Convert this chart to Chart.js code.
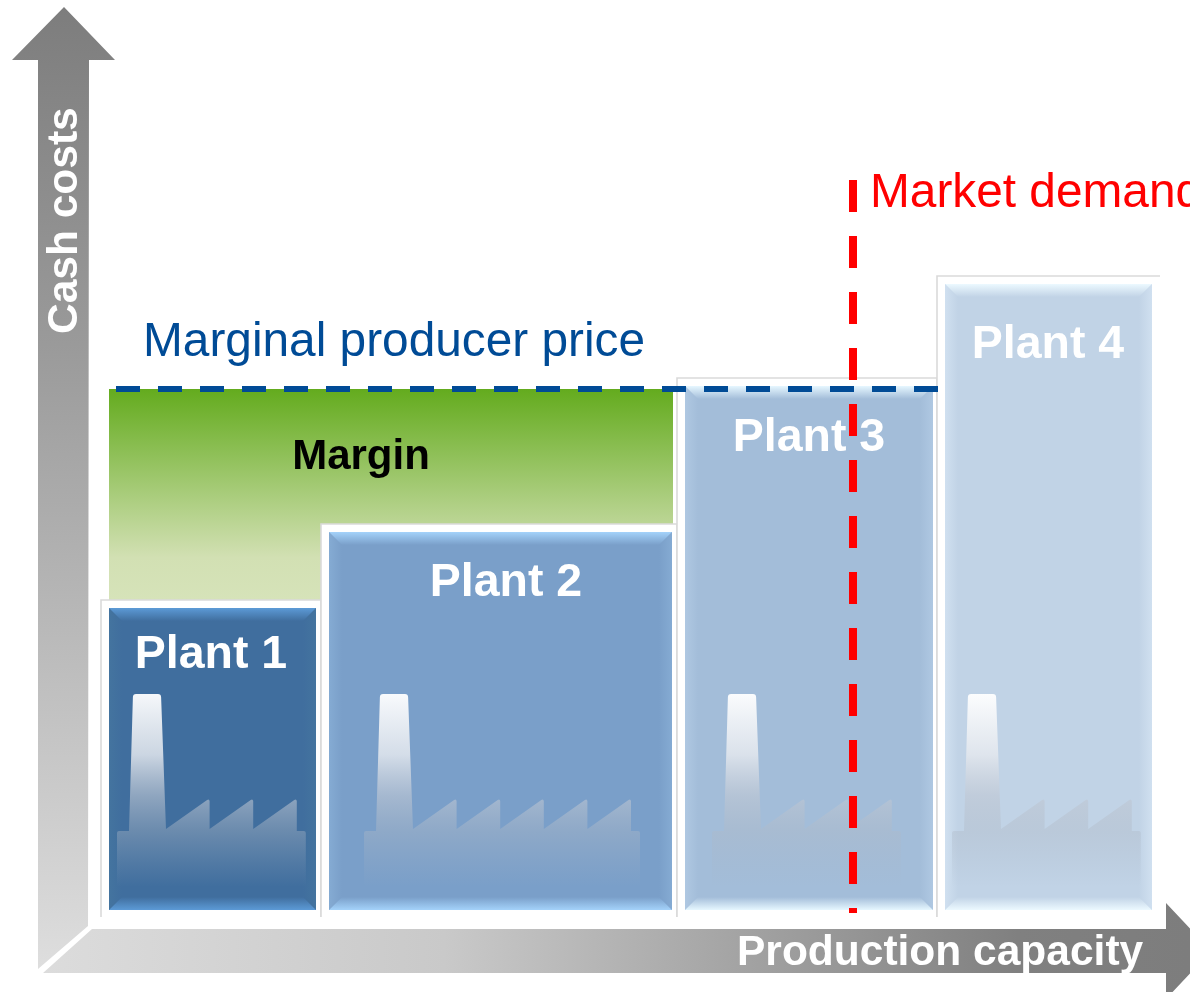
<!DOCTYPE html>
<html>
<head>
<meta charset="utf-8">
<style>html,body{margin:0;padding:0;background:#fff}canvas{display:block}</style>
<script src="https://cdn.jsdelivr.net/npm/chart.js@4/dist/chart.umd.min.js"></script>
</head>
<body>
<canvas id="c" width="1190" height="992"></canvas>
<script>
// ---- data (arbitrary units) ----
const plantNames = ['Plant 1', 'Plant 2', 'Plant 3', 'Plant 4'];
const capacityEdges = [0, 220, 576, 836, 1059];
const cashCosts = [318, 394, 540, 642];
const marginalPrice = 529;
const marketDemand = 752;
const marginStart = 8;
const marginEnd = 572;
const priceLineStart = 15;
const priceLineEnd = 837;
const demandLineBottom = 5;
const demandLineTop = 738;
const yTitle = 'Cash costs';
const xTitle = 'Production capacity';
const priceLabel = 'Marginal producer price';
const demandLabel = 'Market demand';
const marginLabel = 'Margin';

// ---- styles ----
const FONT = '"Liberation Sans", Arial, sans-serif';
const faceColors = ['#406e9e', '#7a9fc9', '#a3bdd9', '#c1d3e6'];
const edgeColors = ['#5c9ad6', '#a4d2fa', '#e6f7ff', '#ecf9ff'];
const sideColors = ['#44749f', '#85abd3', '#afc8e2', '#d0e0f0'];
const rightInset = [5, 5, 4, 8];
const factoryOffset = [8, 35, 27, 7];
const teethCount = [3, 5, 3, 3];
const labelCentre = [211, 506, 809, 1048];
const labelBaseline = [668, 596, 451, 358];

const scenePlugin = {
  id: 'scene',
  beforeDatasetsDraw(chart) {
    const ctx = chart.ctx;
    // Y axis arrow
    let g = ctx.createLinearGradient(0, 7, 0, 970);
    g.addColorStop(0, '#7d7d7d'); g.addColorStop(0.35, '#9a9a9a'); g.addColorStop(1, '#dedede');
    ctx.fillStyle = g;
    ctx.beginPath();
    ctx.moveTo(64, 7); ctx.lineTo(115, 60); ctx.lineTo(89, 60); ctx.lineTo(88, 926);
    ctx.lineTo(38, 969); ctx.lineTo(38, 60); ctx.lineTo(12, 60); ctx.closePath(); ctx.fill();
    // X axis arrow
    g = ctx.createLinearGradient(43, 0, 1190, 0);
    g.addColorStop(0, '#dcdcdc'); g.addColorStop(0.35, '#c9c9c9'); g.addColorStop(0.85, '#808080'); g.addColorStop(1, '#7d7d7d');
    ctx.fillStyle = g;
    ctx.beginPath();
    ctx.moveTo(92, 929); ctx.lineTo(1166, 929); ctx.lineTo(1166, 903); ctx.lineTo(1211, 951);
    ctx.lineTo(1166, 999); ctx.lineTo(1166, 973); ctx.lineTo(43, 973); ctx.closePath(); ctx.fill();
    // Axis titles
    ctx.fillStyle = '#fff';
    ctx.font = 'bold 42.5px ' + FONT;
    ctx.textAlign = 'left'; ctx.textBaseline = 'alphabetic';
    ctx.fillText(xTitle, 737, 965);
    ctx.save();
    ctx.translate(77, 334); ctx.rotate(-Math.PI / 2);
    ctx.fillText(yTitle, 0, 0);
    ctx.restore();
  },
  afterDatasetDraw(chart, args) {
    const i = args.index - 1;
    if (i < 0 || i >= plantNames.length) return;
    const ctx = chart.ctx, xs = chart.scales.x, ys = chart.scales.y;
    const x0 = xs.getPixelForValue(capacityEdges[i]) + 8;
    const x1 = xs.getPixelForValue(capacityEdges[i + 1]) - rightInset[i];
    const y0 = ys.getPixelForValue(cashCosts[i]) + 8;
    const y1 = ys.getPixelForValue(0) - 8;
    const b = 13;
    ctx.save();
    ctx.fillStyle = faceColors[i];
    ctx.fillRect(x0, y0, x1 - x0, y1 - y0);
    // side bevels
    let g = ctx.createLinearGradient(x0, 0, x0 + b, 0);
    g.addColorStop(0, sideColors[i]); g.addColorStop(1, faceColors[i]);
    ctx.fillStyle = g;
    ctx.beginPath(); ctx.moveTo(x0, y0); ctx.lineTo(x0 + b, y0 + b); ctx.lineTo(x0 + b, y1 - b); ctx.lineTo(x0, y1); ctx.closePath(); ctx.fill();
    g = ctx.createLinearGradient(x1, 0, x1 - b, 0);
    g.addColorStop(0, sideColors[i]); g.addColorStop(1, faceColors[i]);
    ctx.fillStyle = g;
    ctx.beginPath(); ctx.moveTo(x1, y0); ctx.lineTo(x1 - b, y0 + b); ctx.lineTo(x1 - b, y1 - b); ctx.lineTo(x1, y1); ctx.closePath(); ctx.fill();
    // top bevel
    g = ctx.createLinearGradient(0, y0, 0, y0 + b);
    g.addColorStop(0, edgeColors[i]); g.addColorStop(1, faceColors[i]);
    ctx.fillStyle = g;
    ctx.beginPath(); ctx.moveTo(x0, y0); ctx.lineTo(x1, y0); ctx.lineTo(x1 - b, y0 + b); ctx.lineTo(x0 + b, y0 + b); ctx.closePath(); ctx.fill();
    // bottom bevel
    g = ctx.createLinearGradient(0, y1, 0, y1 - b);
    g.addColorStop(0, edgeColors[i]); g.addColorStop(1, faceColors[i]);
    ctx.fillStyle = g;
    ctx.beginPath(); ctx.moveTo(x0, y1); ctx.lineTo(x1, y1); ctx.lineTo(x1 - b, y1 - b); ctx.lineTo(x0 + b, y1 - b); ctx.closePath(); ctx.fill();
    // factory silhouette
    const fx = x0 + factoryOffset[i], top = 694, shoulder = 831, foot = 897, step = 43.6;
    g = ctx.createLinearGradient(0, top, 0, foot);
    g.addColorStop(0, 'rgba(255,255,255,0.95)');
    g.addColorStop(0.3, 'rgba(228,232,238,0.85)');
    g.addColorStop(0.5, 'rgba(192,200,212,0.62)');
    g.addColorStop(0.68, 'rgba(175,185,198,0.38)');
    g.addColorStop(0.95, 'rgba(165,178,195,0)');
    ctx.fillStyle = g;
    ctx.beginPath();
    ctx.moveTo(fx, foot); ctx.lineTo(fx, shoulder + 2); ctx.quadraticCurveTo(fx, shoulder, fx + 2, shoulder);
    ctx.lineTo(fx + 12, shoulder);
    ctx.lineTo(fx + 15.9, top + 3); ctx.quadraticCurveTo(fx + 16, top, fx + 19, top);
    ctx.lineTo(fx + 41, top); ctx.quadraticCurveTo(fx + 44, top, fx + 44.1, top + 3);
    ctx.lineTo(fx + 49, 829);
    for (let t = 0; t < teethCount[i]; t++) {
      const s = fx + 49 + t * step;
      ctx.lineTo(s + step - 2.5, 800);
      ctx.quadraticCurveTo(s + step - 0.5, 798.5, s + step, 801);
      ctx.lineTo(s + step, 829);
    }
    const fr = fx + 49 + teethCount[i] * step + 9;
    ctx.lineTo(fr - 9, shoulder); ctx.lineTo(fr - 2, shoulder); ctx.quadraticCurveTo(fr, shoulder, fr, shoulder + 2);
    ctx.lineTo(fr, foot); ctx.closePath(); ctx.fill();
    // plant label
    ctx.fillStyle = '#fff';
    ctx.font = 'bold 46.5px ' + FONT;
    ctx.textAlign = 'center'; ctx.textBaseline = 'alphabetic';
    ctx.fillText(plantNames[i], labelCentre[i], labelBaseline[i]);
    ctx.restore();
  },
  afterDatasetsDraw(chart) {
    const ctx = chart.ctx;
    ctx.save();
    ctx.textBaseline = 'alphabetic'; ctx.textAlign = 'left';
    ctx.fillStyle = '#000';
    ctx.font = 'bold 42px ' + FONT;
    ctx.textAlign = 'center';
    ctx.fillText(marginLabel, 361, 469);
    ctx.textAlign = 'left';
    ctx.font = '47.8px ' + FONT;
    ctx.fillStyle = '#004b96';
    ctx.fillText(priceLabel, 143, 356);
    ctx.fillStyle = '#ff0000';
    ctx.fillText(demandLabel, 870, 207);
    ctx.restore();
  }
};

// ---- datasets ----
const base = { pointRadius: 0, pointHoverRadius: 0, tension: 0, borderJoinStyle: 'miter' };
const datasets = [];
datasets.push(Object.assign({}, base, {
  label: marginLabel,
  order: 10,
  data: [{ x: marginStart, y: marginalPrice }, { x: marginEnd, y: marginalPrice }],
  borderWidth: 0,
  fill: 'origin',
  backgroundColor(ctx) {
    const g = ctx.chart.ctx.createLinearGradient(0, 388, 0, 600);
    g.addColorStop(0, '#63ab1d');
    g.addColorStop(0.8, '#d2e0b3');
    g.addColorStop(1, '#d6e3b9');
    return g;
  }
}));
plantNames.forEach((name, i) => {
  datasets.push(Object.assign({}, base, {
    label: name,
    order: 9 - i,
    data: [
      { x: capacityEdges[i], y: 1 },
      { x: capacityEdges[i], y: cashCosts[i] },
      { x: capacityEdges[i + 1], y: cashCosts[i] },
      { x: capacityEdges[i + 1], y: 1 }
    ],
    borderColor: '#dadada',
    borderWidth: 1.6,
    fill: 'origin',
    backgroundColor: '#ffffff',
    segment: i === 3 ? { borderColor: c => (c.p0DataIndex === 2 ? 'rgba(0,0,0,0)' : '#dadada') } : undefined
  }));
});
datasets.push(Object.assign({}, base, {
  label: priceLabel,
  order: 2,
  data: [{ x: priceLineStart, y: marginalPrice }, { x: priceLineEnd, y: marginalPrice }],
  borderColor: '#004b96',
  borderWidth: 6,
  borderDash: [24, 18],
  borderCapStyle: 'butt',
  fill: false
}));
datasets.push(Object.assign({}, base, {
  label: demandLabel,
  order: 1,
  data: [{ x: marketDemand, y: demandLineTop }, { x: marketDemand, y: demandLineBottom }],
  borderColor: '#ff0000',
  borderWidth: 8,
  borderDash: [32, 24],
  borderCapStyle: 'butt',
  fill: false
}));

new Chart(document.getElementById('c'), {
  type: 'line',
  data: { datasets },
  plugins: [scenePlugin],
  options: {
    responsive: false,
    animation: false,
    parsing: false,
    normalized: false,
    events: [],
    layout: { padding: 0 },
    plugins: { legend: { display: false }, tooltip: { enabled: false }, title: { display: false } },
    scales: {
      x: { type: 'linear', display: false, min: -101, max: 1089 },
      y: { type: 'linear', display: false, min: -74, max: 918 }
    }
  }
});
</script>
</body>
</html>
